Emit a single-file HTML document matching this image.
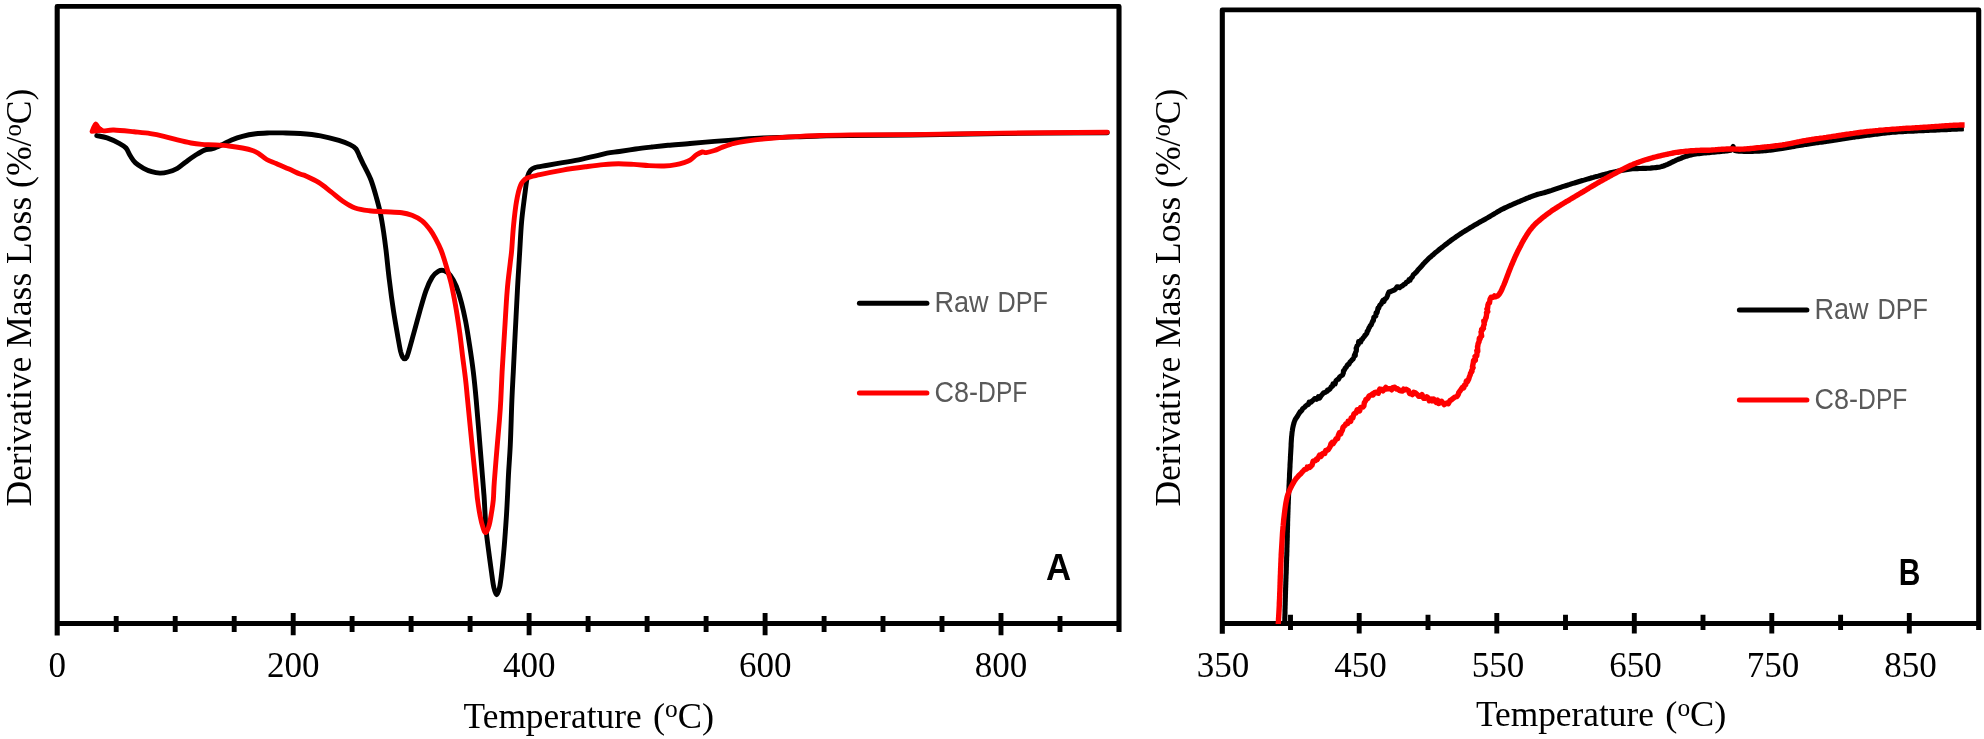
<!DOCTYPE html>
<html lang="en">
<head>
<meta charset="utf-8">
<title>Derivative mass loss curves of Raw DPF and C8-DPF</title>
<style>
html,body{margin:0;padding:0;background:#fff}
body{width:1984px;height:739px;overflow:hidden}
svg{display:block;filter:blur(.55px)}
</style>
</head>
<body>
<svg width="1984" height="739" viewBox="0 0 1984 739">
<rect width="1984" height="739" fill="#fff"/>
<path fill="#000" d="M54.65 635.60V6.45Q54.65 4.05 57.05 4.05H1119.15Q1121.55 4.05 1121.55 6.45V632.00H1116.45V8.75H59.75V635.60ZM1219.75 633.70V9.90Q1219.75 7.50 1222.15 7.50H1978.85Q1981.25 7.50 1981.25 9.90V630.10H1976.15V12.20H1224.85V633.70Z"/>
<path fill="none" stroke="#000" stroke-width="5" d="M57.20 623.40H1119.00M1222.30 623.40H1978.70"/>
<g stroke="#000" stroke-width="4.9" fill="none">
<path d="M116.2 616.1V632M175.2 616.1V632M234.2 616.1V632M293.2 613.1V635.3M352.1 616.1V632M411.1 616.1V632M470.1 616.1V632M529.1 613.1V635.3M588.1 616.1V632M647.1 616.1V632M706.1 616.1V632M765.1 613.1V635.3M824.1 616.1V632M883.0 616.1V632M942.0 616.1V632M1001.0 613.1V635.3M1060.0 616.1V632"/>
<path d="M1290.5 614.7V630.1M1359.2 613.1V633.4M1428.0 614.7V630.1M1496.8 613.1V633.4M1565.5 614.7V630.1M1634.3 613.1V633.4M1703.0 614.7V630.1M1771.8 613.1V633.4M1840.6 614.7V630.1M1909.3 613.1V633.4"/>
</g>
<g fill="none" stroke-linejoin="round" stroke-linecap="round">
<path stroke="#000" stroke-width="4.9" d="M96.8 135.6C98.5 136.0 103.4 136.6 107.1 137.9C110.8 139.2 116.0 141.6 119.2 143.3C122.4 145.0 124.2 146.0 126.0 148.0C127.8 150.0 128.5 153.0 130.1 155.5C131.7 158.0 133.2 160.8 135.5 162.9C137.8 165.0 140.9 166.8 143.6 168.3C146.3 169.8 149.0 170.9 151.7 171.7C154.4 172.5 157.1 173.0 159.8 173.1C162.5 173.2 165.1 172.8 168.0 172.0C170.9 171.2 174.5 169.9 177.4 168.3C180.3 166.7 182.6 164.3 185.5 162.2C188.4 160.1 191.8 157.5 195.0 155.5C198.2 153.5 201.6 151.2 204.5 150.1C207.4 149.0 209.7 149.6 212.6 148.7C215.5 147.8 218.9 146.2 222.1 144.7C225.3 143.2 228.2 141.3 231.6 139.9C235.0 138.5 238.3 137.3 242.4 136.3C246.5 135.3 251.4 134.4 255.9 133.8C260.4 133.2 264.9 133.1 269.4 132.9C273.9 132.8 277.9 132.8 283.0 132.9C288.1 133.0 294.0 133.0 300.3 133.5C306.6 134.0 314.2 134.7 320.6 135.8C327.0 137.0 334.0 138.9 338.9 140.4C343.8 141.9 347.1 143.2 350.0 144.6C352.9 146.0 354.4 146.9 356.0 148.9C357.6 150.9 358.4 153.8 359.6 156.4C360.8 159.0 361.5 160.5 363.4 164.3C365.3 168.2 368.7 174.1 370.8 179.5C372.9 184.9 374.6 191.1 376.2 196.8C377.8 202.5 379.3 207.8 380.5 213.7C381.7 219.6 382.7 225.9 383.6 232.0C384.5 238.1 385.0 241.9 386.0 250.0C387.0 258.1 388.1 270.4 389.4 280.5C390.6 290.6 392.1 301.8 393.5 310.9C394.9 320.0 396.4 328.5 397.6 335.3C398.8 342.1 399.8 347.9 400.6 351.5C401.5 355.1 402.0 356.0 402.7 357.2C403.4 358.4 404.0 358.9 404.7 358.9C405.4 358.9 406.0 358.4 406.7 357.2C407.4 356.0 407.5 355.5 408.7 351.5C409.9 347.5 411.9 340.0 413.8 333.2C415.7 326.4 417.9 318.0 419.9 310.9C421.9 303.8 424.0 296.2 426.0 290.6C428.0 285.0 430.1 280.6 432.1 277.4C434.1 274.2 436.2 272.4 438.2 271.3C440.2 270.2 442.3 270.0 444.3 270.7C446.3 271.4 448.4 272.8 450.4 275.4C452.4 278.0 454.5 281.9 456.4 286.5C458.2 291.1 460.0 297.0 461.5 302.8C463.0 308.6 464.2 314.0 465.6 321.1C467.0 328.2 468.3 336.9 469.6 345.4C470.9 353.8 472.2 362.7 473.3 371.8C474.4 380.9 475.1 387.9 476.2 400.0C477.3 412.1 478.7 429.8 479.9 444.7C481.1 459.6 482.8 480.1 483.5 489.3C484.2 498.5 483.9 493.2 484.3 500.0C484.7 506.8 485.4 521.6 486.1 529.8C486.8 538.0 487.5 542.1 488.4 549.1C489.3 556.1 490.5 565.0 491.4 571.5C492.3 578.0 493.0 583.9 493.9 587.8C494.8 591.7 495.7 594.7 496.6 594.7C497.5 594.7 498.6 591.7 499.5 587.8C500.4 583.9 501.1 578.0 501.8 571.5C502.6 565.0 503.3 556.8 504.0 549.1C504.7 541.4 505.2 533.5 505.8 525.3C506.4 517.1 506.9 508.5 507.3 500.0C507.8 491.5 508.0 483.6 508.5 474.4C509.0 465.2 509.7 457.1 510.3 444.7C510.9 432.3 511.4 412.1 511.9 400.0C512.4 387.9 512.7 383.3 513.3 371.8C513.9 360.3 514.6 344.7 515.3 331.2C516.0 317.7 516.8 302.4 517.4 290.6C518.0 278.8 518.8 267.0 519.2 260.2C519.6 253.4 519.4 256.4 519.8 250.0C520.2 243.6 520.8 230.9 521.6 221.8C522.4 212.7 523.8 202.8 524.7 195.4C525.7 188.0 526.3 181.4 527.3 177.2C528.3 173.0 529.2 172.0 530.5 170.4C531.8 168.8 532.3 168.4 534.9 167.6C537.5 166.8 541.6 166.3 546.2 165.5C550.8 164.7 557.1 163.6 562.5 162.7C567.9 161.8 573.3 160.9 578.7 159.8C584.1 158.7 590.2 157.3 594.9 156.2C599.6 155.1 603.0 154.0 607.1 153.2C611.2 152.4 614.6 152.2 619.3 151.5C624.0 150.8 630.1 149.8 635.5 149.0C640.9 148.2 646.4 147.6 651.8 147.0C657.2 146.4 661.6 145.9 668.0 145.3C674.4 144.7 682.3 144.2 690.0 143.5C697.7 142.8 706.3 142.1 714.4 141.4C722.5 140.8 730.6 140.2 738.7 139.6C746.8 139.0 753.6 138.4 763.1 138.0C772.6 137.6 786.0 137.2 795.5 136.9C805.0 136.6 810.8 136.2 819.9 136.0C829.0 135.8 834.9 135.7 850.0 135.5C865.1 135.3 885.5 135.3 910.7 135.0C936.0 134.7 968.7 133.9 1001.5 133.5C1034.3 133.1 1089.7 132.8 1107.3 132.7"/>
<path stroke="#f00" stroke-width="4.9" d="M100.3 129.3C100.9 129.6 101.5 130.8 103.7 130.9C106.0 131.0 108.7 129.8 113.8 130.0C118.9 130.2 128.0 131.2 134.1 131.8C140.2 132.4 145.4 132.8 150.4 133.6C155.4 134.3 159.4 135.2 163.9 136.3C168.4 137.4 172.9 138.8 177.4 139.9C181.9 141.0 186.9 142.2 191.0 143.0C195.1 143.8 197.8 144.1 201.8 144.4C205.9 144.7 210.8 144.6 215.3 144.9C219.8 145.2 224.3 145.5 228.8 146.0C233.3 146.5 238.3 147.2 242.4 148.0C246.5 148.8 250.5 149.8 253.2 150.7C255.9 151.6 256.4 152.0 258.6 153.5C260.9 155.0 263.8 157.8 266.7 159.5C269.6 161.2 272.6 162.0 276.2 163.6C279.8 165.2 284.4 167.1 288.4 168.8C292.4 170.5 297.0 172.8 300.0 174.0C303.0 175.2 303.3 174.8 306.4 176.2C309.5 177.6 314.5 179.8 318.6 182.4C322.7 185.0 326.8 188.5 330.8 191.6C334.9 194.7 338.8 198.5 342.9 201.2C346.9 203.9 350.7 206.4 355.1 208.0C359.5 209.6 364.2 210.1 369.3 210.7C374.4 211.3 380.2 211.4 385.6 211.7C391.0 212.0 397.4 212.1 401.8 212.7C406.2 213.3 408.6 214.0 412.0 215.3C415.4 216.7 419.1 218.4 422.1 220.8C425.2 223.2 427.9 226.8 430.3 230.0C432.7 233.2 434.5 236.8 436.3 240.1C438.1 243.4 439.3 245.7 441.0 250.0C442.7 254.3 444.6 260.4 446.3 266.2C448.0 271.9 449.9 278.1 451.4 284.5C452.9 290.9 454.0 297.0 455.4 304.8C456.8 312.6 458.3 322.7 459.5 331.2C460.7 339.7 461.5 347.5 462.5 355.6C463.5 363.7 464.8 372.5 465.6 379.9C466.5 387.3 466.5 389.2 467.6 400.0C468.7 410.8 470.5 429.8 472.0 444.7C473.5 459.6 475.6 480.1 476.5 489.3C477.4 498.5 477.0 495.5 477.6 500.0C478.2 504.5 479.3 511.7 480.2 516.4C481.1 521.1 482.3 525.6 483.2 528.3C484.1 531.0 484.8 533.0 485.8 532.5C486.8 532.0 488.2 528.5 489.1 525.3C490.0 522.1 490.7 517.6 491.4 513.4C492.1 509.2 492.8 505.2 493.3 500.0C493.8 494.8 493.6 491.1 494.3 481.9C495.0 472.7 496.4 455.1 497.3 444.7C498.2 434.3 498.9 426.8 499.5 419.4C500.1 411.9 500.4 407.9 500.8 400.0C501.2 392.1 501.5 383.3 502.1 371.8C502.7 360.3 503.8 344.7 504.6 331.2C505.5 317.7 506.2 302.1 507.2 290.6C508.1 279.1 509.6 269.0 510.3 262.2C511.1 255.4 511.2 256.1 511.7 250.0C512.2 243.9 512.7 234.0 513.5 225.9C514.3 217.8 515.3 208.3 516.5 201.5C517.7 194.7 518.9 189.2 520.6 185.3C522.3 181.4 523.5 180.0 526.7 178.2C529.9 176.4 533.9 176.0 539.9 174.7C545.9 173.3 555.1 171.4 562.7 170.1C570.3 168.8 578.6 167.7 585.4 166.8C592.2 165.9 598.0 165.1 603.5 164.6C609.0 164.1 613.6 163.7 618.6 163.7C623.6 163.7 628.8 164.1 633.8 164.4C638.8 164.7 643.9 165.3 648.9 165.6C653.9 165.9 659.5 166.2 664.0 166.0C668.5 165.8 672.8 165.2 676.1 164.6C679.4 164.0 681.7 163.3 684.0 162.6C686.3 161.9 687.9 161.5 690.0 160.2C692.1 158.9 694.5 156.2 696.5 154.8C698.5 153.4 700.6 152.4 702.2 152.0C703.8 151.6 704.2 152.8 706.2 152.6C708.2 152.3 711.7 151.4 714.4 150.5C717.1 149.6 719.8 148.1 722.5 147.1C725.2 146.1 727.9 145.1 730.6 144.3C733.3 143.5 734.7 143.0 738.7 142.3C742.8 141.6 749.5 140.6 754.9 139.9C760.3 139.2 764.4 138.8 771.2 138.2C778.0 137.6 787.4 137.0 795.5 136.6C803.6 136.2 810.8 135.8 819.9 135.5C829.0 135.2 834.9 135.1 850.0 134.9C865.1 134.8 885.5 134.9 910.7 134.6C936.0 134.3 968.7 133.5 1001.5 133.1C1034.3 132.7 1089.7 132.4 1107.3 132.3"/>
<path stroke="#f00" fill="#f00" stroke-width="4.4" d="M91.8 131.6L93.4 127.6L94.9 124.8L95.8 123.8L96.9 125.0L98.6 127.6L100.3 129.3L101.8 130.6Z"/>
<path stroke="#000" stroke-width="5.1" stroke-linecap="butt" d="M1284.7 623.0L1284.7 622.1L1284.7 621.2L1284.8 620.1L1284.8 618.9L1284.8 617.6L1284.9 616.2L1284.9 614.7L1285.0 613.2L1285.0 611.5L1285.0 609.9L1285.1 608.1L1285.1 606.4L1285.2 604.6L1285.2 602.7L1285.3 600.9L1285.3 599.1L1285.4 597.2L1285.4 595.4L1285.5 593.6L1285.5 591.8L1285.6 590.0L1285.6 588.5L1285.7 587.0L1285.7 585.5L1285.8 584.0L1285.8 582.4L1285.9 580.9L1285.9 579.3L1286.0 577.7L1286.0 576.1L1286.1 574.5L1286.2 572.9L1286.2 571.3L1286.3 569.6L1286.3 568.0L1286.4 566.3L1286.4 564.7L1286.5 563.0L1286.5 561.4L1286.6 559.8L1286.6 558.1L1286.7 556.5L1286.8 554.8L1286.8 553.2L1286.9 551.6L1286.9 550.0L1286.9 548.4L1287.0 546.8L1287.0 545.1L1287.1 543.5L1287.1 541.8L1287.2 540.2L1287.2 538.5L1287.3 536.9L1287.3 535.2L1287.3 533.5L1287.4 531.9L1287.4 530.2L1287.5 528.6L1287.5 526.9L1287.6 525.3L1287.6 523.7L1287.6 522.1L1287.7 520.5L1287.7 518.9L1287.8 517.4L1287.8 515.8L1287.9 514.3L1287.9 512.9L1288.0 511.4L1288.0 510.0L1288.1 508.2L1288.1 506.4L1288.2 504.7L1288.3 503.0L1288.3 501.3L1288.4 499.6L1288.5 498.0L1288.5 496.4L1288.6 494.9L1288.7 493.3L1288.7 491.8L1288.8 490.3L1288.9 488.8L1289.0 487.3L1289.0 485.9L1289.1 484.4L1289.2 482.9L1289.2 481.5L1289.3 480.0L1289.4 478.3L1289.5 476.6L1289.5 474.9L1289.6 473.2L1289.7 471.5L1289.8 469.8L1289.9 468.2L1290.0 466.6L1290.0 465.0L1290.1 463.4L1290.2 461.9L1290.3 460.3L1290.4 458.8L1290.4 457.3L1290.5 455.8L1290.6 454.4L1290.7 452.6L1290.8 450.9L1290.9 449.2L1291.0 447.5L1291.1 445.8L1291.1 444.2L1291.2 442.6L1291.3 441.1L1291.4 439.6L1291.5 438.1L1291.6 436.7L1291.8 435.4L1291.9 434.1L1292.1 432.2L1292.4 430.4L1292.6 428.8L1292.9 427.3L1293.2 425.9L1293.5 424.6L1293.9 423.4L1294.2 422.2L1294.9 420.3L1295.7 418.8L1296.6 417.5L1297.6 416.0L1298.3 414.8L1299.3 413.1L1300.1 411.8L1301.1 411.2L1302.1 409.9L1302.8 408.5L1304.6 407.2L1305.9 405.8L1306.7 405.2L1308.5 404.4L1309.1 402.0L1310.8 402.3L1312.4 400.8L1313.6 399.9L1314.8 398.5L1316.3 398.4L1316.8 399.2L1318.3 396.7L1319.7 398.0L1320.8 396.1L1322.1 394.6L1323.5 393.0L1325.1 392.4L1326.2 391.8L1327.3 391.3L1327.5 390.0L1329.5 389.5L1330.2 388.6L1331.1 386.9L1332.5 386.2L1333.0 383.7L1335.1 384.0L1336.0 380.8L1336.4 380.4L1338.2 378.8L1338.6 379.0L1339.6 377.0L1340.9 376.0L1342.5 375.1L1343.4 372.8L1343.4 370.8L1344.2 370.2L1345.5 367.7L1346.1 367.4L1347.7 364.6L1348.7 364.0L1349.0 364.2L1350.2 361.7L1351.3 360.9L1352.3 359.4L1353.1 359.2L1354.1 356.6L1354.5 354.9L1355.3 355.6L1355.4 352.9L1356.3 351.0L1356.5 348.4L1356.1 348.4L1356.8 346.9L1357.1 345.7L1358.3 344.4L1358.6 341.5L1360.7 342.0L1361.3 339.8L1362.2 339.6L1363.2 337.7L1364.4 336.5L1365.0 335.1L1365.4 335.1L1366.9 333.2L1367.2 331.1L1368.0 330.8L1368.9 327.9L1369.3 327.8L1370.3 325.4L1371.1 325.2L1371.6 323.7L1372.8 320.8L1373.4 320.7L1373.8 317.4L1374.5 316.7L1375.9 316.0L1376.0 312.8L1377.0 312.8L1377.4 311.3L1378.0 308.0L1378.7 308.3L1379.5 305.8L1380.2 304.7L1381.0 304.3L1382.8 300.5L1383.9 301.5L1384.8 299.1L1385.1 299.2L1386.8 297.4L1387.4 295.9L1388.2 293.6L1388.9 292.1L1390.2 291.8L1391.0 291.3L1392.7 290.6L1394.3 290.0L1395.3 289.4L1397.0 286.8L1398.0 286.9L1399.6 287.6L1401.4 286.3L1402.1 286.1L1404.0 284.3L1405.4 283.8L1406.4 282.1L1408.0 281.6L1409.0 279.7L1410.1 280.2L1410.6 278.6L1412.4 276.9L1413.3 274.7L1414.6 273.7L1415.7 272.6L1416.8 271.6L1417.9 270.0L1419.0 268.9L1420.1 267.7L1421.2 266.5L1422.2 265.3L1423.3 264.0L1424.5 262.8L1425.7 261.5L1427.0 260.2L1428.0 259.2L1429.1 258.2L1430.2 257.2L1431.4 256.2L1432.5 255.2L1433.7 254.2L1434.9 253.1L1436.2 252.1L1437.4 251.1L1438.7 250.0L1439.9 249.0L1441.2 248.0L1442.4 247.1L1443.6 246.1L1444.8 245.1L1446.1 244.2L1447.3 243.2L1448.6 242.2L1449.9 241.3L1451.1 240.3L1452.4 239.4L1453.7 238.5L1455.0 237.6L1456.2 236.7L1457.5 235.8L1458.9 234.9L1460.2 234.0L1461.6 233.1L1463.0 232.2L1464.4 231.3L1465.7 230.5L1467.1 229.7L1468.5 228.8L1469.8 228.0L1471.1 227.2L1472.4 226.5L1473.7 225.7L1475.2 224.8L1476.7 224.0L1478.1 223.1L1479.5 222.3L1480.9 221.5L1482.3 220.8L1483.7 220.0L1485.1 219.2L1486.5 218.4L1487.9 217.6L1489.3 216.8L1490.7 215.9L1492.1 215.1L1493.5 214.3L1494.9 213.4L1496.3 212.6L1497.7 211.7L1499.1 210.9L1500.6 210.1L1502.1 209.3L1503.5 208.6L1504.9 207.9L1506.4 207.2L1507.9 206.5L1509.4 205.8L1510.9 205.2L1512.4 204.5L1513.9 203.8L1515.4 203.2L1516.9 202.5L1518.4 201.9L1519.9 201.3L1521.4 200.6L1522.9 200.0L1524.4 199.4L1525.9 198.7L1527.4 198.1L1528.9 197.5L1530.3 197.0L1531.8 196.4L1533.2 195.9L1534.6 195.4L1536.3 194.8L1537.9 194.3L1539.4 193.9L1541.0 193.5L1542.5 193.1L1544.0 192.7L1545.6 192.2L1547.2 191.8L1548.8 191.3L1550.3 190.8L1551.7 190.4L1553.1 189.9L1554.5 189.4L1556.0 188.9L1557.5 188.4L1559.0 187.9L1560.7 187.3L1562.5 186.7L1564.4 186.1L1565.7 185.7L1567.0 185.3L1568.4 184.8L1569.9 184.4L1571.3 183.9L1572.9 183.4L1574.4 183.0L1576.0 182.5L1577.6 182.0L1579.2 181.5L1580.8 181.0L1582.4 180.5L1584.0 180.1L1585.6 179.6L1587.2 179.1L1588.7 178.7L1590.2 178.3L1591.8 177.8L1593.4 177.4L1594.9 176.9L1596.5 176.5L1598.1 176.1L1599.7 175.6L1601.3 175.2L1602.9 174.8L1604.4 174.4L1606.0 174.0L1607.5 173.6L1608.9 173.2L1610.4 172.8L1611.8 172.5L1613.1 172.2L1615.0 171.8L1616.7 171.4L1618.4 171.0L1620.0 170.7L1621.5 170.4L1623.1 170.1L1624.6 169.9L1626.1 169.6L1627.6 169.4L1629.2 169.2L1630.9 169.0L1632.5 168.8L1634.1 168.7L1635.8 168.6L1637.5 168.6L1639.2 168.5L1641.0 168.5L1642.6 168.4L1644.3 168.4L1645.9 168.4L1647.5 168.3L1649.0 168.2L1650.4 168.1L1652.3 167.9L1654.1 167.8L1655.7 167.6L1657.2 167.4L1658.7 167.2L1660.2 166.9L1661.7 166.5L1663.4 166.0L1664.8 165.5L1666.2 164.9L1667.7 164.3L1669.1 163.6L1670.6 162.9L1672.1 162.1L1673.6 161.4L1675.1 160.7L1676.5 160.0L1678.0 159.4L1679.4 158.8L1680.9 158.3L1682.3 157.7L1683.7 157.2L1685.1 156.7L1686.5 156.2L1688.0 155.8L1689.5 155.4L1691.0 155.0L1692.6 154.6L1694.1 154.3L1695.7 154.0L1697.3 153.8L1698.9 153.6L1700.6 153.4L1702.3 153.2L1704.0 153.0L1705.7 152.9L1707.3 152.7L1708.9 152.6L1710.5 152.4L1712.2 152.2L1714.0 152.1L1715.8 151.9L1717.6 151.7L1719.4 151.6L1721.1 151.5L1722.7 151.3L1724.2 151.2L1725.5 151.0L1726.7 150.9L1729.3 150.5L1730.6 150.2L1731.6 149.6L1732.6 147.7L1733.2 146.5L1733.2 147.5L1733.3 149.2L1734.9 150.6L1735.9 150.8L1737.2 151.0L1738.7 151.1L1740.3 151.2L1742.1 151.3L1743.9 151.4L1745.8 151.4L1747.6 151.4L1749.4 151.4L1751.1 151.4L1752.7 151.4L1754.4 151.3L1756.0 151.3L1757.6 151.2L1759.3 151.1L1760.9 151.0L1762.5 150.9L1764.1 150.8L1765.7 150.6L1767.3 150.5L1769.0 150.3L1770.6 150.1L1772.1 150.0L1773.6 149.7L1775.2 149.5L1776.8 149.3L1778.5 149.0L1780.3 148.7L1782.3 148.4L1783.7 148.2L1785.0 148.0L1786.5 147.7L1787.9 147.5L1789.4 147.2L1791.0 146.9L1792.5 146.6L1794.1 146.4L1795.8 146.1L1797.5 145.8L1799.2 145.5L1801.0 145.2L1802.8 144.9L1804.6 144.6L1806.0 144.4L1807.4 144.2L1808.9 143.9L1810.4 143.7L1811.9 143.5L1813.5 143.3L1815.0 143.0L1816.6 142.8L1818.2 142.6L1819.8 142.3L1821.5 142.1L1823.1 141.9L1824.7 141.6L1826.4 141.4L1828.0 141.1L1829.6 140.9L1831.2 140.7L1832.8 140.4L1834.4 140.2L1836.0 140.0L1837.5 139.7L1839.1 139.5L1840.7 139.2L1842.2 139.0L1843.8 138.8L1845.4 138.5L1847.0 138.3L1848.5 138.0L1850.1 137.8L1851.7 137.5L1853.2 137.3L1854.8 137.1L1856.4 136.8L1857.9 136.6L1859.5 136.4L1861.1 136.1L1862.6 135.9L1864.2 135.7L1865.8 135.5L1867.3 135.3L1868.9 135.1L1870.5 134.9L1872.0 134.7L1873.6 134.5L1875.1 134.3L1876.7 134.1L1878.3 133.9L1879.8 133.7L1881.4 133.5L1883.0 133.3L1884.5 133.1L1886.1 133.0L1887.6 132.8L1889.2 132.6L1890.8 132.5L1892.3 132.3L1893.9 132.2L1895.5 132.1L1897.0 132.0L1898.5 131.8L1900.0 131.7L1901.5 131.6L1902.9 131.6L1904.4 131.5L1905.9 131.4L1907.4 131.3L1908.9 131.3L1910.4 131.2L1912.0 131.1L1913.5 131.1L1915.1 131.0L1916.7 130.9L1918.4 130.8L1920.1 130.8L1921.9 130.7L1923.7 130.6L1925.1 130.5L1926.7 130.5L1928.3 130.4L1930.0 130.3L1931.7 130.2L1933.5 130.1L1935.3 130.1L1937.2 130.0L1939.1 129.9L1941.0 129.8L1942.8 129.7L1944.7 129.6L1946.6 129.6L1948.4 129.5L1950.2 129.4L1952.0 129.3L1953.6 129.2L1955.3 129.2L1956.8 129.1L1958.3 129.0L1959.6 129.0L1960.9 128.9L1962.0 128.9L1963.0 128.8L1963.9 128.8"/>
<path stroke="#f00" stroke-width="5.4" stroke-linecap="butt" d="M1278.3 624.0L1278.3 623.1L1278.4 622.0L1278.5 620.8L1278.5 619.3L1278.6 617.8L1278.7 616.2L1278.8 614.5L1278.9 612.7L1279.0 610.8L1279.1 609.0L1279.2 607.1L1279.3 605.2L1279.3 603.4L1279.4 601.7L1279.5 600.0L1279.6 598.5L1279.6 596.9L1279.7 595.4L1279.7 593.8L1279.8 592.3L1279.9 590.7L1279.9 589.1L1280.0 587.6L1280.0 586.0L1280.1 584.4L1280.1 582.8L1280.2 581.3L1280.2 579.7L1280.3 578.1L1280.3 576.6L1280.4 575.0L1280.5 573.4L1280.5 571.9L1280.6 570.3L1280.6 568.8L1280.7 567.2L1280.8 565.7L1280.8 564.1L1280.9 562.6L1281.0 561.0L1281.0 559.4L1281.1 557.9L1281.2 556.3L1281.2 554.7L1281.3 553.2L1281.4 551.6L1281.5 550.0L1281.6 548.4L1281.7 546.8L1281.8 545.1L1281.9 543.5L1282.0 541.8L1282.1 540.1L1282.2 538.5L1282.3 536.8L1282.4 535.1L1282.5 533.5L1282.6 531.8L1282.8 530.2L1282.9 528.6L1283.0 527.0L1283.2 525.5L1283.3 524.0L1283.5 522.3L1283.6 520.6L1283.8 518.9L1284.0 517.2L1284.2 515.6L1284.4 513.9L1284.6 512.3L1284.8 510.7L1285.0 509.2L1285.2 507.7L1285.4 506.3L1285.6 505.0L1285.8 503.7L1286.0 502.5L1286.4 500.4L1286.8 498.6L1287.1 497.1L1287.5 495.7L1287.9 494.4L1288.4 493.1L1289.0 491.6L1289.6 490.2L1290.2 488.8L1290.9 487.3L1291.7 485.9L1292.4 484.5L1293.2 483.2L1293.9 481.9L1294.6 480.8L1295.7 479.2L1296.7 477.9L1297.8 476.7L1298.8 475.5L1299.9 474.5L1301.1 473.4L1302.3 471.9L1303.4 470.8L1304.5 469.6L1306.9 468.9L1307.2 467.1L1309.2 467.6L1309.6 466.4L1310.4 466.8L1312.0 465.2L1313.1 461.2L1315.5 460.6L1316.4 459.0L1317.3 459.5L1318.0 458.1L1319.5 455.1L1321.0 456.3L1322.4 453.9L1323.1 453.3L1324.8 453.6L1325.7 450.4L1327.2 450.3L1327.5 449.9L1328.3 449.6L1330.3 446.3L1330.9 444.0L1332.2 442.3L1333.1 443.7L1333.7 442.8L1335.1 440.8L1335.9 439.0L1337.7 438.6L1338.2 435.8L1339.3 432.9L1340.8 433.8L1340.7 433.2L1342.3 430.2L1343.0 427.5L1343.5 426.7L1345.5 424.9L1345.8 423.9L1347.7 423.6L1348.1 421.1L1349.8 421.6L1350.8 421.3L1351.1 418.0L1352.8 417.1L1352.8 418.1L1353.9 413.9L1355.3 412.9L1356.0 413.0L1357.2 409.6L1358.4 409.8L1359.6 410.9L1360.5 408.0L1360.7 407.4L1362.9 407.1L1363.9 405.8L1364.3 402.8L1365.7 400.6L1365.8 399.4L1367.0 398.9L1367.8 398.4L1369.2 395.9L1370.8 395.1L1372.8 393.7L1373.0 395.0L1374.5 392.6L1375.6 392.2L1378.3 393.2L1379.0 391.1L1379.8 389.1L1381.6 389.5L1383.0 390.9L1385.8 387.4L1386.1 389.0L1387.5 388.8L1390.5 388.6L1391.6 389.8L1392.6 387.6L1394.8 387.3L1396.3 388.9L1397.0 388.4L1399.7 390.5L1400.9 390.9L1402.4 391.1L1403.6 389.2L1404.3 390.1L1406.2 389.2L1408.4 390.5L1409.6 393.6L1411.9 394.1L1412.5 394.6L1413.8 392.3L1415.3 392.8L1417.8 395.0L1418.7 396.4L1420.7 396.3L1422.0 394.7L1423.7 398.4L1424.8 398.4L1426.7 396.8L1428.3 397.9L1429.3 400.8L1431.7 399.2L1432.1 400.9L1433.7 399.1L1436.2 402.5L1437.6 400.0L1438.7 403.5L1440.6 401.6L1441.5 401.2L1444.2 404.7L1446.2 403.2L1447.6 402.7L1448.3 403.7L1449.9 400.7L1451.8 399.6L1452.9 398.6L1454.8 397.1L1455.2 397.0L1456.9 396.6L1458.2 394.5L1458.5 393.7L1458.7 392.6L1460.0 391.0L1462.0 388.0L1462.6 387.2L1463.7 387.9L1464.6 384.9L1465.8 384.6L1466.2 381.6L1466.4 381.0L1467.4 381.7L1468.5 379.6L1468.6 379.5L1469.4 376.8L1470.3 374.7L1470.5 373.2L1471.6 371.9L1472.0 371.2L1471.6 370.6L1473.1 367.6L1472.4 367.0L1473.3 362.6L1473.5 360.8L1474.6 359.1L1475.4 360.2L1475.5 356.2L1475.1 356.5L1476.8 355.8L1477.1 351.6L1476.8 350.7L1477.8 351.3L1477.5 346.6L1477.8 346.3L1478.1 343.5L1478.1 343.9L1479.1 341.7L1479.3 338.2L1480.1 338.8L1481.2 335.0L1481.7 336.1L1481.0 331.9L1482.3 330.0L1481.7 329.3L1483.4 328.3L1482.8 328.3L1484.2 324.2L1484.3 324.3L1483.8 320.8L1484.7 321.4L1485.9 317.4L1486.1 317.9L1486.6 314.3L1486.9 312.7L1486.5 312.6L1487.8 311.6L1486.9 309.1L1487.6 308.4L1487.9 305.2L1488.5 303.4L1489.1 302.8L1489.5 302.9L1489.8 300.8L1490.0 299.3L1491.2 297.1L1493.2 297.3L1494.4 295.9L1495.6 296.8L1497.3 296.1L1498.8 294.8L1499.4 293.9L1500.1 292.8L1500.8 291.6L1501.5 290.3L1502.2 288.7L1502.9 287.0L1503.8 285.0L1504.3 283.8L1504.8 282.5L1505.4 281.1L1505.9 279.7L1506.5 278.1L1507.1 276.6L1507.7 275.0L1508.3 273.4L1508.9 271.8L1509.5 270.2L1510.1 268.7L1510.7 267.2L1511.3 265.8L1512.0 264.2L1512.6 262.7L1513.2 261.2L1513.9 259.8L1514.5 258.3L1515.1 256.9L1515.8 255.5L1516.4 254.1L1517.1 252.8L1517.7 251.4L1518.4 250.0L1519.2 248.5L1520.0 246.9L1520.8 245.4L1521.6 243.8L1522.4 242.3L1523.2 240.8L1524.0 239.4L1524.9 238.0L1525.7 236.6L1526.5 235.3L1527.5 233.8L1528.5 232.3L1529.4 230.9L1530.4 229.6L1531.4 228.4L1532.4 227.1L1533.5 225.9L1534.6 224.7L1535.8 223.5L1537.1 222.3L1538.4 221.2L1539.7 220.1L1541.0 219.0L1542.3 217.9L1543.6 216.9L1544.8 216.0L1546.2 214.9L1547.5 213.9L1548.8 213.0L1550.0 212.1L1551.4 211.1L1552.9 210.1L1554.0 209.4L1555.1 208.6L1556.3 207.9L1557.5 207.1L1558.8 206.3L1560.1 205.5L1561.5 204.6L1562.9 203.7L1564.4 202.8L1565.6 202.1L1566.8 201.3L1568.1 200.6L1569.5 199.8L1570.8 199.0L1572.2 198.2L1573.6 197.3L1575.0 196.5L1576.4 195.7L1577.8 194.8L1579.2 194.0L1580.6 193.2L1581.9 192.4L1583.3 191.6L1584.6 190.8L1586.0 190.0L1587.3 189.1L1588.7 188.3L1590.0 187.5L1591.4 186.7L1592.7 185.9L1594.1 185.1L1595.4 184.3L1596.8 183.5L1598.2 182.7L1599.5 181.9L1600.9 181.2L1602.2 180.4L1603.6 179.6L1605.0 178.9L1606.3 178.1L1607.7 177.4L1609.0 176.6L1610.4 175.9L1611.7 175.1L1613.1 174.4L1614.6 173.6L1616.1 172.8L1617.5 172.0L1619.0 171.2L1620.5 170.4L1621.9 169.6L1623.4 168.9L1624.9 168.1L1626.3 167.4L1627.8 166.7L1629.3 166.0L1630.8 165.3L1632.3 164.7L1633.7 164.1L1635.2 163.5L1636.7 162.9L1638.2 162.4L1639.7 161.8L1641.2 161.3L1642.6 160.8L1644.1 160.3L1645.6 159.8L1647.2 159.3L1648.8 158.8L1650.5 158.3L1652.1 157.9L1653.7 157.4L1655.3 157.0L1656.9 156.6L1658.6 156.2L1660.2 155.8L1661.8 155.4L1663.4 155.0L1665.0 154.7L1666.7 154.3L1668.3 154.0L1669.9 153.6L1671.5 153.3L1673.1 153.0L1674.8 152.7L1676.4 152.4L1678.0 152.2L1679.6 152.0L1681.3 151.8L1682.9 151.6L1684.5 151.4L1686.1 151.2L1687.8 151.1L1689.4 150.9L1691.0 150.8L1692.7 150.7L1694.3 150.6L1695.9 150.5L1697.5 150.4L1699.2 150.4L1700.8 150.3L1702.4 150.3L1704.0 150.3L1705.6 150.3L1707.3 150.2L1708.9 150.2L1710.5 150.1L1712.1 150.0L1713.7 149.9L1715.4 149.8L1717.0 149.6L1718.6 149.5L1720.2 149.4L1721.8 149.3L1723.5 149.2L1725.1 149.1L1726.7 149.0L1728.3 149.0L1730.0 149.0L1731.6 149.0L1733.2 149.0L1734.8 149.1L1736.5 149.1L1738.1 149.1L1739.7 149.2L1741.4 149.1L1743.0 149.1L1744.6 149.0L1746.1 148.9L1747.6 148.8L1749.2 148.7L1750.7 148.5L1752.2 148.4L1753.8 148.2L1755.5 148.0L1757.3 147.8L1759.2 147.6L1760.5 147.5L1761.9 147.3L1763.4 147.2L1764.9 147.0L1766.4 146.9L1768.0 146.7L1769.6 146.6L1771.2 146.4L1772.8 146.2L1774.4 146.0L1776.0 145.8L1777.6 145.6L1779.2 145.4L1780.8 145.2L1782.3 145.0L1783.9 144.7L1785.5 144.5L1787.0 144.2L1788.5 143.9L1790.0 143.6L1791.5 143.3L1793.0 143.0L1794.6 142.6L1796.1 142.3L1797.7 142.0L1799.3 141.7L1801.0 141.3L1802.8 141.0L1804.6 140.7L1806.0 140.5L1807.4 140.2L1808.9 140.0L1810.4 139.8L1811.9 139.5L1813.5 139.3L1815.0 139.0L1816.6 138.8L1818.2 138.6L1819.8 138.3L1821.5 138.1L1823.1 137.9L1824.7 137.6L1826.4 137.4L1828.0 137.1L1829.6 136.9L1831.2 136.7L1832.8 136.4L1834.4 136.2L1836.0 136.0L1837.5 135.7L1839.1 135.5L1840.7 135.3L1842.2 135.0L1843.8 134.8L1845.4 134.5L1847.0 134.3L1848.5 134.1L1850.1 133.8L1851.7 133.6L1853.2 133.4L1854.8 133.1L1856.4 132.9L1857.9 132.7L1859.5 132.5L1861.1 132.3L1862.6 132.1L1864.2 131.9L1865.8 131.7L1867.3 131.5L1868.9 131.4L1870.5 131.2L1872.0 131.1L1873.6 130.9L1875.1 130.8L1876.7 130.6L1878.3 130.5L1879.8 130.3L1881.4 130.2L1883.0 130.1L1884.5 129.9L1886.1 129.8L1887.6 129.7L1889.2 129.6L1890.8 129.4L1892.3 129.3L1893.9 129.2L1895.5 129.1L1897.0 129.0L1898.6 128.9L1900.2 128.7L1901.7 128.6L1903.3 128.5L1904.9 128.4L1906.4 128.3L1908.0 128.3L1909.6 128.2L1911.1 128.1L1912.7 128.0L1914.3 127.9L1915.9 127.8L1917.4 127.7L1919.0 127.6L1920.6 127.5L1922.1 127.4L1923.7 127.3L1925.3 127.2L1926.9 127.1L1928.6 127.0L1930.3 126.9L1932.0 126.7L1933.7 126.6L1935.5 126.5L1937.2 126.4L1938.9 126.3L1940.6 126.1L1942.3 126.0L1943.9 125.9L1945.5 125.8L1947.0 125.7L1948.5 125.6L1949.8 125.5L1951.2 125.4L1952.4 125.4L1953.5 125.3L1956.2 125.2L1958.4 125.1L1960.1 125.0L1961.6 125.0L1962.8 125.0L1963.8 125.0L1964.6 125.0"/>
</g>
<g stroke-width="5" stroke-linecap="round" fill="none">
<path stroke="#000" d="M859.4 303.3H926.9"/>
<path stroke="#f00" d="M859.4 393.1H926.9"/>
<path stroke="#000" d="M1739.4 310.1H1806.9"/>
<path stroke="#f00" d="M1739.4 399.9H1806.9"/>
</g>
<g font-family="'Liberation Sans', sans-serif" font-size="29.4" fill="#595959">
<text transform="translate(934.50 311.70) scale(0.9209 1)">Raw <tspan x="68.48" textLength="54.68" lengthAdjust="spacingAndGlyphs">DPF</tspan></text>
<text transform="translate(934.50 401.70) scale(0.9184 1)">C8-<tspan x="47.47" textLength="53.65" lengthAdjust="spacingAndGlyphs">DPF</tspan></text>
<text transform="translate(1814.50 318.90) scale(0.9209 1)">Raw <tspan x="68.48" textLength="54.68" lengthAdjust="spacingAndGlyphs">DPF</tspan></text>
<text transform="translate(1814.50 409.10) scale(0.9184 1)">C8-<tspan x="47.47" textLength="53.65" lengthAdjust="spacingAndGlyphs">DPF</tspan></text>
</g>
<g font-family="'Liberation Sans', sans-serif" font-size="37.2" font-weight="bold" fill="#000">
<text transform="translate(1046.11 580.20) scale(0.9354 1)">A</text>
<text transform="translate(1898.69 585.20) scale(0.8044 1)">B</text>
</g>
<g font-family="'Liberation Serif', serif" font-size="35" fill="#000" text-anchor="middle">
<text x="57.3" y="677.2">0</text>
<text x="293.3" y="677.2">200</text>
<text x="529.2" y="677.2">400</text>
<text x="765.2" y="677.2">600</text>
<text x="1001.1" y="677.2">800</text>
<text x="1222.9" y="677.2">350</text>
<text x="1360.4" y="677.2">450</text>
<text x="1498.0" y="677.2">550</text>
<text x="1635.5" y="677.2">650</text>
<text x="1773.0" y="677.2">750</text>
<text x="1910.5" y="677.2">850</text>
</g>
<g font-family="'Liberation Serif', serif" font-size="36.3" fill="#000">
<text y="727.9"><tspan x="463.6" textLength="178.0" lengthAdjust="spacingAndGlyphs">Temperature</tspan> <tspan x="653.0">(</tspan><tspan font-size="25.4" dy="-10.5">o</tspan><tspan dy="10.5">C)</tspan></text>
<text y="726.1"><tspan x="1475.9" textLength="178.0" lengthAdjust="spacingAndGlyphs">Temperature</tspan> <tspan x="1665.3">(</tspan><tspan font-size="25.4" dy="-10.5">o</tspan><tspan dy="10.5">C)</tspan></text>
<text transform="translate(31.3 297.6) rotate(-90)" text-anchor="middle" textLength="418.0" lengthAdjust="spacingAndGlyphs">Derivative Mass Loss (%/<tspan font-size="25.4" dy="-10.5">o</tspan><tspan dy="10.5">C)</tspan></text>
<text transform="translate(1180.0 297.6) rotate(-90)" text-anchor="middle" textLength="418.0" lengthAdjust="spacingAndGlyphs">Derivative Mass Loss (%/<tspan font-size="25.4" dy="-10.5">o</tspan><tspan dy="10.5">C)</tspan></text>
</g>
</svg>
</body>
</html>
